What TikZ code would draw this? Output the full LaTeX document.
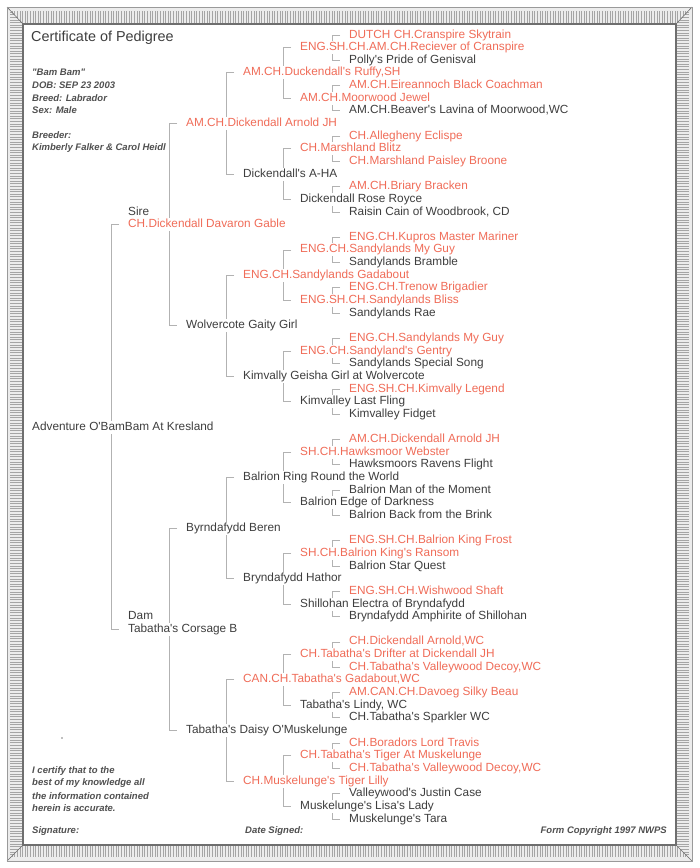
\documentclass[tikz,border=0pt]{standalone}
\usepackage{fontspec}
\newfontfamily\arial{Liberation Sans}
\pgfdeclarelayer{back}
\pgfdeclarelayer{background}
\pgfsetlayers{back,background,main}
\definecolor{pedred}{RGB}{240,108,88}
\definecolor{peddk}{RGB}{62,62,62}
\definecolor{pedinfo}{RGB}{80,80,80}
\definecolor{pedline}{RGB}{178,178,178}
\definecolor{bandfill}{RGB}{236,236,236}
\definecolor{hatchc}{RGB}{165,165,165}
\definecolor{edgec}{RGB}{110,110,110}
\newcommand\pedn[4]{\node[#2] (n#1) at (#3,{35+(#1-1)*12.645}) {#4};}
\begin{document}
\begin{tikzpicture}[x=1pt,y=-1pt,
  pnode/.style={anchor=west,inner sep=1pt,fill=white,text height=8.5pt,text depth=2.5pt,font=\arial\fontsize{11.8}{13}\selectfont},
  rd/.style={pnode,text=pedred},
  dk/.style={pnode,text=peddk},
  info/.style={anchor=west,inner sep=0pt,text=pedinfo,font=\arial\bfseries\itshape\fontsize{9.5}{11}\selectfont},
  conn/.style={draw=pedline,line width=0.9pt},
  hatchline/.style={draw=hatchc,line width=0.7pt},
]
\useasboundingbox (0,0) rectangle (700,868);
\begin{pgfonlayer}{back}
\fill[white] (0,0) rectangle (700,868);
\end{pgfonlayer}
% ---- border band ----
\fill[bandfill,even odd rule] (7,7) rectangle (692,861) (23,24) rectangle (676,845);
\begin{scope}
\clip (7,7) -- (692,7) -- (676,24) -- (23,24) -- cycle;
\foreach \x in {7,9.6,...,692} \draw[hatchline] (\x,11) -- (\x,23);
\end{scope}
\begin{scope}
\clip (7,861) -- (692,861) -- (676,845) -- (23,845) -- cycle;
\foreach \x in {7,9.6,...,692} \draw[hatchline] (\x,846) -- (\x,857);
\end{scope}
\begin{scope}
\clip (7,7) -- (23,24) -- (23,845) -- (7,861) -- cycle;
\foreach \y in {7,9.6,...,861} \draw[hatchline] (10,\y) -- (22,\y);
\end{scope}
\begin{scope}
\clip (692,7) -- (676,24) -- (676,845) -- (692,861) -- cycle;
\foreach \y in {7,9.6,...,861} \draw[hatchline] (677,\y) -- (689,\y);
\end{scope}
\draw[edgec,line width=0.6pt] (7,7) -- (23,24) (692,7) -- (676,24) (7,861) -- (23,845) (692,861) -- (676,845);
\draw[edgec!70,line width=0.8pt] (7,7) rectangle (692,861);
\draw[edgec,line width=1.3pt] (23,24) rectangle (676,845);
% ---- header info ----
\node[anchor=west,inner sep=0pt,text=peddk,font=\arial\fontsize{14.4}{16}\selectfont] (title) at (31,38) {Certificate of Pedigree};
\node[info] (nick) at (32,72) {"Bam Bam"};
\node[info] (dob) at (32,85) {DOB: SEP 23 2003};
\node[info] (breed) at (32,98) {Breed: Labrador};
\node[info] (sex) at (32,110) {Sex: Male};
\node[info] (breeder) at (32,135) {Breeder:};
\node[info] (owners) at (32,148) {Kimberly Falker \& Carol Heidl};
% ---- footer ----
\node[info] (cert1) at (32,771) {I certify that to the};
\node[info] (cert2) at (32,783.3) {best of my knowledge all};
\node[info] (cert3) at (32,795.6) {the information contained};
\node[info] (cert4) at (32,808) {herein is accurate.};
\node[info] (sig) at (32,831) {Signature:};
\node[info] (date) at (245,831) {Date Signed:};
\node[info,anchor=east] (copy) at (667,831) {Form Copyright 1997 NWPS};
\fill[gray] (62,738) circle (0.9);
% ---- pedigree ----
\node[dk] (sire) at (127,{35+14*12.645}) {Sire};
\node[dk] (dam) at (127,{35+46*12.645}) {Dam};
\pedn{1}{rd}{348}{DUTCH CH.Cranspire Skytrain}
\pedn{2}{rd}{299}{ENG.SH.CH.AM.CH.Reciever of Cranspire}
\pedn{3}{dk}{348}{Polly's Pride of Genisval}
\pedn{4}{rd}{242}{AM.CH.Duckendall's Ruffy,SH}
\pedn{5}{rd}{348}{AM.CH.Eireannoch Black Coachman}
\pedn{6}{rd}{299}{AM.CH.Moorwood Jewel}
\pedn{7}{dk}{348}{AM.CH.Beaver's Lavina of Moorwood,WC}
\pedn{8}{rd}{185}{AM.CH.Dickendall Arnold JH}
\pedn{9}{rd}{348}{CH.Allegheny Eclispe}
\pedn{10}{rd}{299}{CH.Marshland Blitz}
\pedn{11}{rd}{348}{CH.Marshland Paisley Broone}
\pedn{12}{dk}{242}{Dickendall's A-HA}
\pedn{13}{rd}{348}{AM.CH.Briary Bracken}
\pedn{14}{dk}{299}{Dickendall Rose Royce}
\pedn{15}{dk}{348}{Raisin Cain of Woodbrook, CD}
\pedn{16}{rd}{127}{CH.Dickendall Davaron Gable}
\pedn{17}{rd}{348}{ENG.CH.Kupros Master Mariner}
\pedn{18}{rd}{299}{ENG.CH.Sandylands My Guy}
\pedn{19}{dk}{348}{Sandylands Bramble}
\pedn{20}{rd}{242}{ENG.CH.Sandylands Gadabout}
\pedn{21}{rd}{348}{ENG.CH.Trenow Brigadier}
\pedn{22}{rd}{299}{ENG.SH.CH.Sandylands Bliss}
\pedn{23}{dk}{348}{Sandylands Rae}
\pedn{24}{dk}{185}{Wolvercote Gaity Girl}
\pedn{25}{rd}{348}{ENG.CH.Sandylands My Guy}
\pedn{26}{rd}{299}{ENG.CH.Sandyland's Gentry}
\pedn{27}{dk}{348}{Sandylands Special Song}
\pedn{28}{dk}{242}{Kimvally Geisha Girl at Wolvercote}
\pedn{29}{rd}{348}{ENG.SH.CH.Kimvally Legend}
\pedn{30}{dk}{299}{Kimvalley Last Fling}
\pedn{31}{dk}{348}{Kimvalley Fidget}
\pedn{32}{dk}{31}{Adventure O'BamBam At Kresland}
\pedn{33}{rd}{348}{AM.CH.Dickendall Arnold JH}
\pedn{34}{rd}{299}{SH.CH.Hawksmoor Webster}
\pedn{35}{dk}{348}{Hawksmoors Ravens Flight}
\pedn{36}{dk}{242}{Balrion Ring Round the World}
\pedn{37}{dk}{348}{Balrion Man of the Moment}
\pedn{38}{dk}{299}{Balrion Edge of Darkness}
\pedn{39}{dk}{348}{Balrion Back from the Brink}
\pedn{40}{dk}{185}{Byrndafydd Beren}
\pedn{41}{rd}{348}{ENG.SH.CH.Balrion King Frost}
\pedn{42}{rd}{299}{SH.CH.Balrion King's Ransom}
\pedn{43}{dk}{348}{Balrion Star Quest}
\pedn{44}{dk}{242}{Bryndafydd Hathor}
\pedn{45}{rd}{348}{ENG.SH.CH.Wishwood Shaft}
\pedn{46}{dk}{299}{Shillohan Electra of Bryndafydd}
\pedn{47}{dk}{348}{Bryndafydd Amphirite of Shillohan}
\pedn{48}{dk}{127}{Tabatha's Corsage B}
\pedn{49}{rd}{348}{CH.Dickendall Arnold,WC}
\pedn{50}{rd}{299}{CH.Tabatha's Drifter at Dickendall JH}
\pedn{51}{rd}{348}{CH.Tabatha's Valleywood Decoy,WC}
\pedn{52}{rd}{242}{CAN.CH.Tabatha's Gadabout,WC}
\pedn{53}{rd}{348}{AM.CAN.CH.Davoeg Silky Beau}
\pedn{54}{dk}{299}{Tabatha's Lindy, WC}
\pedn{55}{dk}{348}{CH.Tabatha's Sparkler WC}
\pedn{56}{dk}{185}{Tabatha's Daisy O'Muskelunge}
\pedn{57}{rd}{348}{CH.Boradors Lord Travis}
\pedn{58}{rd}{299}{CH.Tabatha's Tiger At Muskelunge}
\pedn{59}{rd}{348}{CH.Tabatha's Valleywood Decoy,WC}
\pedn{60}{rd}{242}{CH.Muskelunge's Tiger Lilly}
\pedn{61}{dk}{348}{Valleywood's Justin Case}
\pedn{62}{dk}{299}{Muskelunge's Lisa's Lady}
\pedn{63}{dk}{348}{Muskelunge's Tara}
% ---- connectors (behind the text) ----
\begin{pgfonlayer}{background}
\foreach \p/\d in {32/16,16/8,48/8,8/4,24/4,40/4,56/4,4/2,12/2,20/2,28/2,36/2,44/2,52/2,60/2,
  2/1,6/1,10/1,14/1,18/1,22/1,26/1,30/1,34/1,38/1,42/1,46/1,50/1,54/1,58/1,62/1}{
  \pgfmathtruncatemacro\ca{\p-\d}
  \pgfmathtruncatemacro\cb{\p+\d}
  \draw[conn] ([xshift=-8pt]n\ca.west) -- ++(-8,0) |- ([xshift=-8pt]n\cb.west);
}
\end{pgfonlayer}
\end{tikzpicture}
\end{document}
